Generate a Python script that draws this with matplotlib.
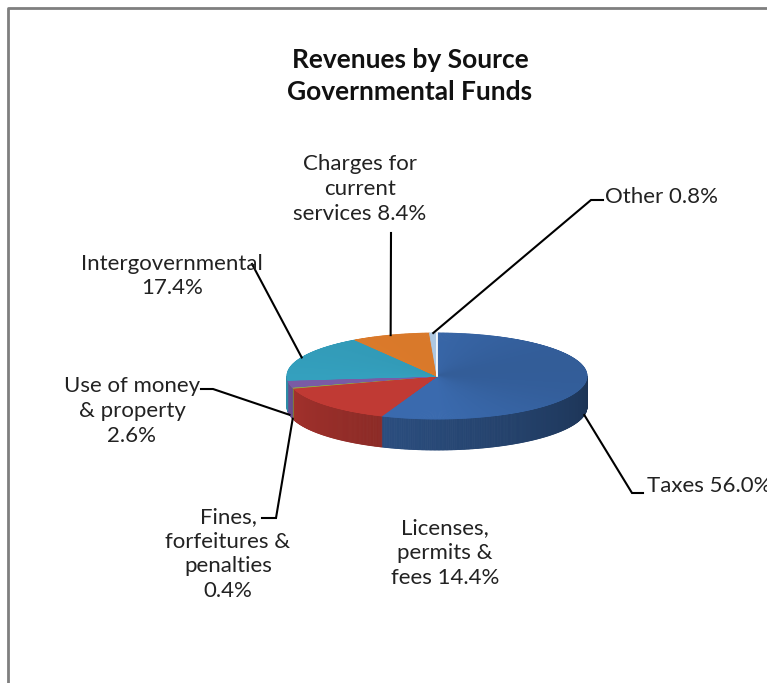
import matplotlib.pyplot as plt
import numpy as np
from matplotlib.colors import to_rgb
from matplotlib.collections import PolyCollection

# Revenue shares by source (percent), clockwise from 12 o'clock
sources = ['Taxes', 'Licenses,\npermits &\nfees', 'Fines,\nforfeitures &\npenalties\n',
           'Use of money\n& property\n', 'Intergovernmental\n', 'Charges for\ncurrent\nservices',
           'Other']
shares = [56.0, 14.4, 0.4, 2.6, 17.4, 8.4, 0.8]
colors = ['#3a6aae', '#c03a34', '#8cb04a', '#7a5ba5', '#34a0be', '#e27e2c', '#b4cfea']

# label placement: (x, y, ha) and leader (tail, elbow) in pixel space
label_pos = [(647, 486, 'left'), (445, 553, 'center'), (228, 554, 'center'),
             (132, 411, 'center'), (172, 276, 'center'), (360, 189, 'center'),
             (605, 197, 'left')]
leaders = [((643, 493), (632, 493)), None, ((262, 518), (276, 518)),
           ((201, 389), (213, 389)), ((252, 264), (252, 264)), ((391, 233), (391, 233)),
           ((603, 200), (591, 200))]

plt.rcParams['font.family'] = ['Lato', 'DejaVu Sans']

fig = plt.figure(figsize=(7.67, 6.83), dpi=100)
ax = fig.add_axes([0, 0, 1, 1])
ax.set_xlim(0, 767)
ax.set_ylim(683, 0)
ax.axis('off')

# pie geometry (ellipse seen from above, with a thickness)
cx, cy, a, b, depth = 437, 376, 150, 43, 31

def rim(theta):
    t = np.radians(theta)
    return cx + a * np.sin(t), cy - b * np.cos(t)

bounds = np.concatenate([[0], np.cumsum(shares)]) * 3.6

# side wall, only the front half is visible
side_polys, side_cols = [], []
for i, c in enumerate(colors):
    lo, hi = max(bounds[i], 90), min(bounds[i + 1], 270)
    if hi <= lo:
        continue
    th = np.linspace(lo, hi, max(2, int((hi - lo) * 2)))
    for t0, t1 in zip(th[:-1], th[1:]):
        x0, y0 = rim(t0)
        x1, y1 = rim(t1)
        side_polys.append([(x0, y0), (x1, y1), (x1, y1 + depth), (x0, y0 + depth)])
        f = 0.48 + 0.4 * ((t0 + t1) / 2 - 90) / 180
        side_cols.append(tuple(np.array(to_rgb(c)) * f))
ax.add_collection(PolyCollection(side_polys, facecolors=side_cols, edgecolors=side_cols,
                                 linewidths=0.6, zorder=1))

# top face
top_polys, top_cols = [], []
for i, c in enumerate(colors):
    lo, hi = bounds[i], bounds[i + 1]
    th = np.linspace(lo, hi, max(2, int((hi - lo) * 2)))
    for t0, t1 in zip(th[:-1], th[1:]):
        top_polys.append([(cx, cy), rim(t0), rim(t1)])
        m = np.radians((t0 + t1) / 2)
        f = 1.0 - 0.12 * max(np.sin(m), 0) - 0.04 * max(np.cos(m), 0)
        top_cols.append(tuple(np.clip(np.array(to_rgb(c)) * f, 0, 1)))
ax.add_collection(PolyCollection(top_polys, facecolors=top_cols, edgecolors=top_cols,
                                 linewidths=0.6, zorder=2))
# thin light seam at 12 o'clock
ax.plot([cx, rim(0)[0]], [cy, rim(0)[1]], color='white', lw=1.2, zorder=3)

# labels and leader lines
for i, (name, share) in enumerate(zip(sources, shares)):
    sep = '' if name.endswith('\n') else ' '
    x, y, ha = label_pos[i]
    ax.text(x, y, f'{name}{sep}{share:.1f}%', ha=ha, va='center', fontsize=16,
            color='#222222', linespacing=1.3, zorder=5)
    if leaders[i] is None:
        continue
    mid = (bounds[i] + bounds[i + 1]) / 2
    ex, ey = rim(mid)
    if 90 < mid < 270:
        ey += depth
    tail, elbow = leaders[i]
    ax.plot([tail[0], elbow[0], ex], [tail[1], elbow[1], ey], color='black', lw=1.5,
            zorder=4, solid_joinstyle='miter')

ax.text(410, 76, 'Revenues by Source\nGovernmental Funds', ha='center', va='center',
        fontsize=19, fontweight='bold', color='#111111', linespacing=1.45)

# chart frame
ax.plot([8, 8, 767], [683, 8, 8], color='#7f7f7f', lw=2, zorder=6)

fig.savefig('out.png', dpi=100)
